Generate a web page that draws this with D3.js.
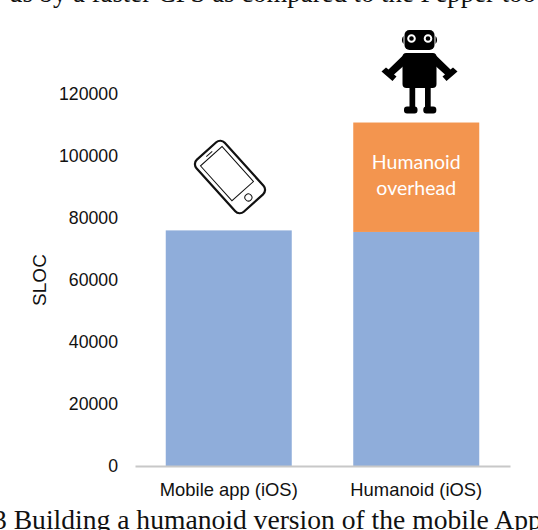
<!DOCTYPE html>
<html><head><meta charset="utf-8">
<script src="https://cdn.jsdelivr.net/npm/d3@7"></script>
<style>html,body{margin:0;padding:0;background:#fff}svg{display:block}</style>
</head><body><svg id="c" width="538" height="530"></svg>
<script>
const categories = ["Mobile app (iOS)", "Humanoid (iOS)"];
const baseValues = [76000, 75500];
const overheadValues = [0, 35300];
const yTicks = [0, 20000, 40000, 60000, 80000, 100000, 120000];
const overheadLabel = ["Humanoid", "overhead"];
const topLine = "us by a faster CPS as compared to the Pepper too";
const bottomLine = "3 Building a humanoid version of the mobile App";

const svg = d3.select("#c");
const x = d3.scaleBand().domain(categories).range([135, 510]).paddingInner(0.328).paddingOuter(0.164);
const y = d3.scaleLinear().domain([0, 120000]).range([466, 94]);
const sans = "Liberation Sans, Arial, sans-serif", serif = "Liberation Serif, Times New Roman, serif";

svg.append("text").attr("x", 9).attr("y", 2).attr("font-family", serif).attr("font-size", 26.8).attr("fill", "#111").text(topLine);

svg.selectAll(".base").data(categories).join("rect").attr("class", "base")
  .attr("x", d => x(d)).attr("width", x.bandwidth())
  .attr("y", (d, i) => y(baseValues[i])).attr("height", (d, i) => y(0) - y(baseValues[i])).attr("fill", "#8fadda");
svg.selectAll(".over").data(categories.filter((d, i) => overheadValues[i] > 0)).join("rect").attr("class", "over")
  .attr("x", d => x(d)).attr("width", x.bandwidth())
  .attr("y", d => { const i = categories.indexOf(d); return y(baseValues[i] + overheadValues[i]); })
  .attr("height", d => { const i = categories.indexOf(d); return y(baseValues[i]) - y(baseValues[i] + overheadValues[i]); })
  .attr("fill", "#f3954f");

const yAxis = d3.axisLeft(y).tickValues(yTicks).tickSize(0).tickPadding(17).tickFormat(d3.format("d"));
const gy = svg.append("g").attr("transform", "translate(135,0)").call(yAxis);
gy.select(".domain").remove();
gy.selectAll("text").attr("font-family", sans).attr("font-size", 17.7).attr("fill", "#111");

const xAxis = d3.axisBottom(x).tickSize(0).tickPadding(17);
const gx = svg.append("g").attr("transform", "translate(0,466)").call(xAxis);
gx.select(".domain").attr("stroke", "#c8c8c8").attr("stroke-width", 1.8);
gx.selectAll("text").attr("font-family", sans).attr("font-size", 18.4).attr("fill", "#111");

svg.append("text").attr("transform", "translate(45.5,280) rotate(-90)").attr("text-anchor", "middle")
  .attr("font-family", sans).attr("font-size", 19).attr("fill", "#111").text("SLOC");

const cx = x(categories[1]) + x.bandwidth() / 2;
svg.selectAll(".ol").data(overheadLabel).join("text").attr("class", "ol")
  .attr("x", cx).attr("y", (d, i) => 169 + i * 26).attr("text-anchor", "middle")
  .attr("font-family", "Lato, sans-serif").attr("font-size", 19.5).attr("fill", "#fff").text(d => d);

svg.append("text").attr("x", -7).attr("y", 529).attr("font-family", serif).attr("font-size", 27.6).attr("fill", "#111").text(bottomLine);

// phone icon
const ph = svg.append("g").attr("transform", "translate(230,177) rotate(-42)").attr("fill", "none").attr("stroke", "#111");
ph.append("rect").attr("x", -19).attr("y", -35).attr("width", 38).attr("height", 70).attr("rx", 6).attr("stroke-width", 2.2);
ph.append("rect").attr("x", -14.5).attr("y", -28).attr("width", 29).attr("height", 47).attr("stroke-width", 1);
ph.append("circle").attr("cy", 27.5).attr("r", 3.5).attr("stroke-width", 1);
ph.append("line").attr("x1", -4).attr("x2", 4).attr("y1", -31).attr("y2", -31).attr("stroke-width", 1);

// robot icon
const r = svg.append("g").attr("transform", "translate(419.5,0)").attr("fill", "#000");
r.append("rect").attr("x", -15).attr("y", 30).attr("width", 30).attr("height", 20).attr("rx", 5);
r.append("path").attr("d", "M-16,36a4,5 0 0 0 0,8Z M16,36a4,5 0 0 1 0,8Z");
r.selectAll(".eye").data([-8, 8.5]).join("circle").attr("class", "eye").attr("cx", d => d).attr("cy", 38.5).attr("r", 3.3).attr("fill", "#000").attr("stroke", "#fff").attr("stroke-width", 2);
r.append("rect").attr("x", -17).attr("y", 53).attr("width", 34).attr("height", 35).attr("rx", 4);
r.append("path").attr("d", "M-14,53L-31,69.5L-33.5,67.5L-38,71.5L-27,81L-23,76.5L-25.5,74.5L-16,66Z M14,53L31,69.5L33.5,67.5L38,71.5L27,81L23,76.5L25.5,74.5L16,66Z");
r.append("rect").attr("x", -10).attr("y", 87).attr("width", 5.7).attr("height", 21);
r.append("rect").attr("x", 5.5).attr("y", 87).attr("width", 5.7).attr("height", 21);
r.append("rect").attr("x", -15.5).attr("y", 106.5).attr("width", 13.5).attr("height", 7).attr("rx", 3);
r.append("rect").attr("x", 3.8).attr("y", 106.5).attr("width", 13).attr("height", 7).attr("rx", 3);
</script></body></html>
